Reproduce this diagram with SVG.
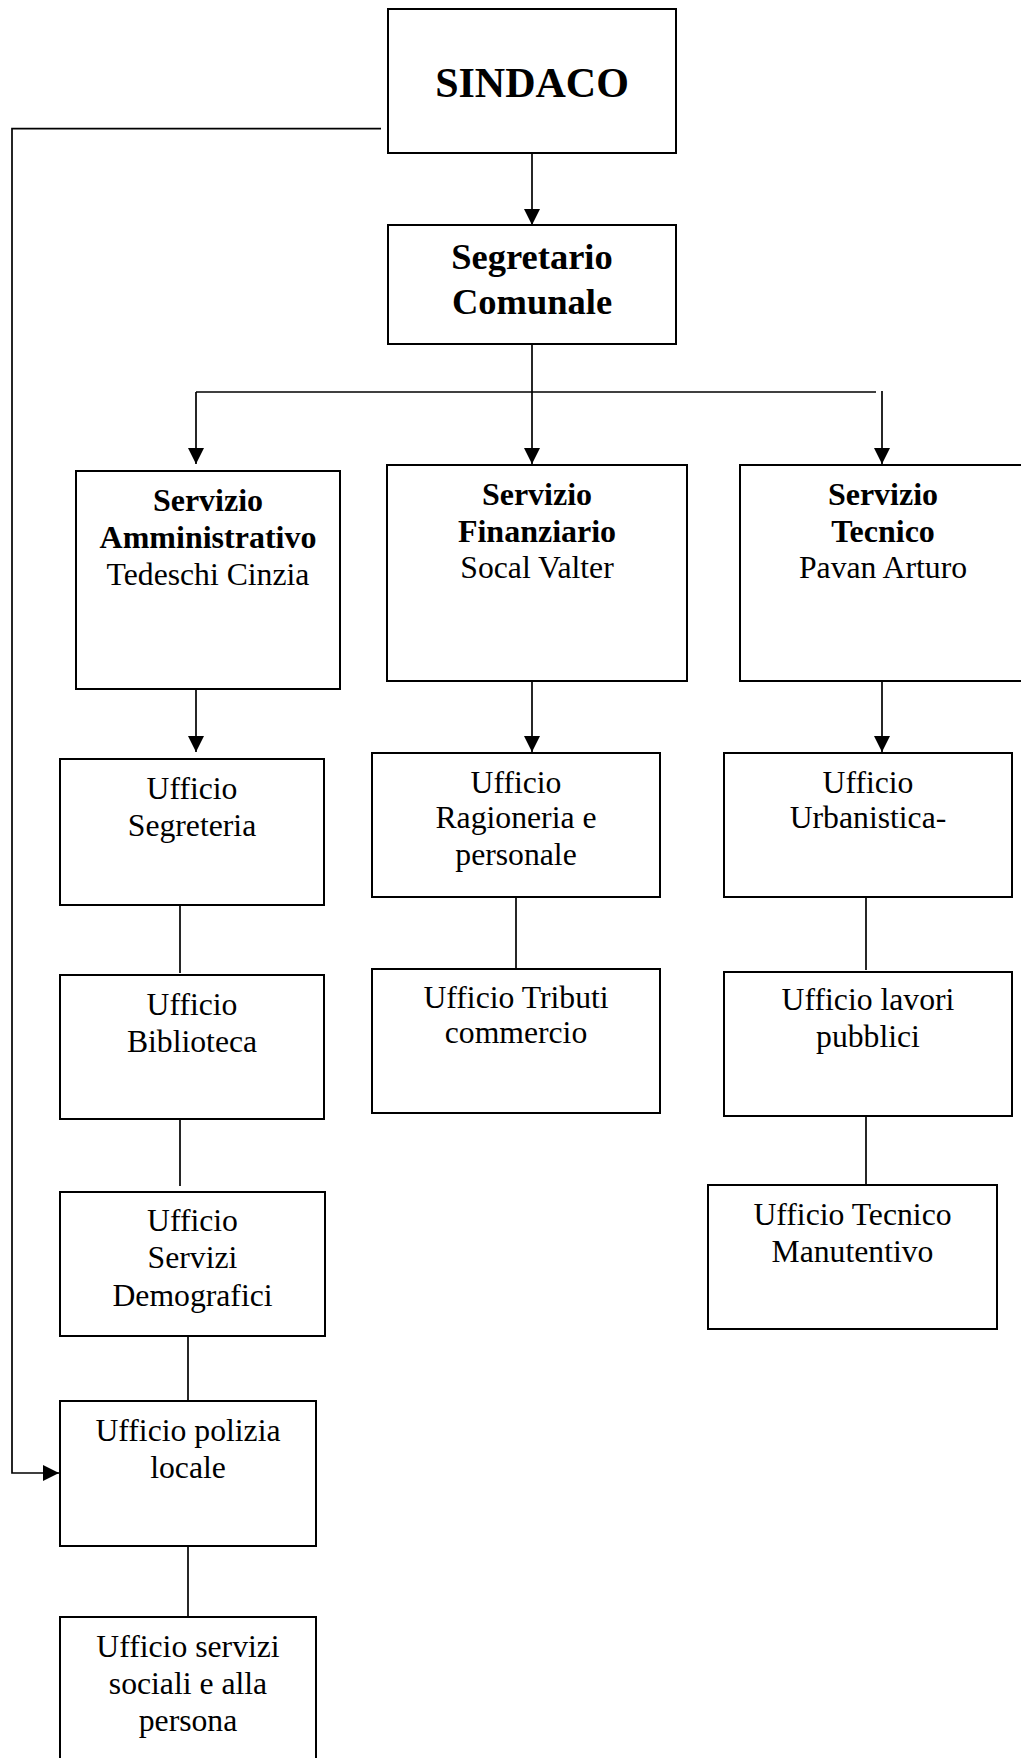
<svg xmlns="http://www.w3.org/2000/svg" width="1021" height="1758" viewBox="0 0 1021 1758">
<style>
.box{fill:#fff;stroke:#000;stroke-width:2}
.con{fill:none;stroke:#000;stroke-width:1.7}
text{font-family:"Liberation Serif","Times New Roman",serif;fill:#000;text-anchor:middle}
.b{font-weight:bold;font-size:32px}
.r{font-size:31.7px}
.big{font-weight:bold;font-size:42px}
.seg{font-weight:bold;font-size:36.5px}
</style>
<defs>
<marker id="arr" markerUnits="userSpaceOnUse" markerWidth="16" markerHeight="16" refX="16" refY="8" orient="auto">
<path d="M0,0 L16,8 L0,16 Z" fill="#000"/>
</marker>
</defs>
<rect width="1021" height="1758" fill="#fff"/>
<g id="connectors">
<line class="con" x1="532" y1="153" x2="532" y2="225" marker-end="url(#arr)"/>
<line class="con" x1="532" y1="344" x2="532" y2="464" marker-end="url(#arr)"/>
<line class="con" x1="196" y1="392" x2="876" y2="392"/>
<line class="con" x1="196" y1="392" x2="196" y2="464" marker-end="url(#arr)"/>
<line class="con" x1="882" y1="391" x2="882" y2="464" marker-end="url(#arr)"/>
<line class="con" x1="196" y1="689" x2="196" y2="752" marker-end="url(#arr)"/>
<line class="con" x1="532" y1="681" x2="532" y2="752" marker-end="url(#arr)"/>
<line class="con" x1="882" y1="681" x2="882" y2="752" marker-end="url(#arr)"/>
<line class="con" x1="180" y1="905" x2="180" y2="973"/>
<line class="con" x1="180" y1="1119" x2="180" y2="1186"/>
<line class="con" x1="188" y1="1336" x2="188" y2="1401"/>
<line class="con" x1="188" y1="1546" x2="188" y2="1617"/>
<line class="con" x1="516" y1="897" x2="516" y2="969"/>
<line class="con" x1="866" y1="897" x2="866" y2="970"/>
<line class="con" x1="866" y1="1113" x2="866" y2="1185"/>
<polyline class="con" points="381,128.7 12,128.7 12,1473 59,1473" marker-end="url(#arr)"/>
</g>
<g id="sindaco">
<rect class="box" x="388" y="9" width="288" height="144"/>
<text class="big" x="532" y="97">SINDACO</text>
</g>
<g id="segretario">
<rect class="box" x="388" y="225" width="288" height="119"/>
<text class="seg" x="532" y="269">Segretario</text>
<text class="seg" x="532" y="314">Comunale</text>
</g>
<g id="servizio-amministrativo">
<rect class="box" x="76" y="471" width="264" height="218"/>
<text class="b" x="208" y="510.7">Servizio</text>
<text class="b" x="208" y="547.7">Amministrativo</text>
<text class="r" x="208" y="584.5">Tedeschi Cinzia</text>
</g>
<g id="servizio-finanziario">
<rect class="box" x="387" y="465" width="300" height="216"/>
<text class="b" x="537" y="505">Servizio</text>
<text class="b" x="537" y="542">Finanziario</text>
<text class="r" x="537" y="578">Socal Valter</text>
</g>
<g id="servizio-tecnico">
<rect class="box" x="740" y="465" width="286" height="216"/>
<text class="b" x="883" y="505">Servizio</text>
<text class="b" x="883" y="542">Tecnico</text>
<text class="r" x="883" y="578">Pavan Arturo</text>
</g>
<g id="ufficio-segreteria">
<rect class="box" x="60" y="759" width="264" height="146"/>
<text class="r" x="192" y="799">Ufficio</text>
<text class="r" x="192" y="836">Segreteria</text>
</g>
<g id="ufficio-biblioteca">
<rect class="box" x="60" y="975" width="264" height="144"/>
<text class="r" x="192" y="1015">Ufficio</text>
<text class="r" x="192" y="1052">Biblioteca</text>
</g>
<g id="ufficio-demografici">
<rect class="box" x="60" y="1192" width="265" height="144"/>
<text class="r" x="192.5" y="1231">Ufficio</text>
<text class="r" x="192.5" y="1268">Servizi</text>
<text class="r" x="192.5" y="1306">Demografici</text>
</g>
<g id="ufficio-polizia">
<rect class="box" x="60" y="1401" width="256" height="145"/>
<text class="r" x="188" y="1441">Ufficio polizia</text>
<text class="r" x="188" y="1478">locale</text>
</g>
<g id="ufficio-sociali">
<rect class="box" x="60" y="1617" width="256" height="160"/>
<text class="r" x="188" y="1657">Ufficio servizi</text>
<text class="r" x="188" y="1694">sociali e alla</text>
<text class="r" x="188" y="1731">persona</text>
</g>
<g id="ufficio-ragioneria">
<rect class="box" x="372" y="753" width="288" height="144"/>
<text class="r" x="516" y="793">Ufficio</text>
<text class="r" x="516" y="828">Ragioneria e</text>
<text class="r" x="516" y="865">personale</text>
</g>
<g id="ufficio-tributi">
<rect class="box" x="372" y="969" width="288" height="144"/>
<text class="r" x="516" y="1008">Ufficio Tributi</text>
<text class="r" x="516" y="1043">commercio</text>
</g>
<g id="ufficio-urbanistica">
<rect class="box" x="724" y="753" width="288" height="144"/>
<text class="r" x="868" y="793">Ufficio</text>
<text class="r" x="868" y="828">Urbanistica-</text>
</g>
<g id="ufficio-lavori">
<rect class="box" x="724" y="972" width="288" height="144"/>
<text class="r" x="868" y="1010">Ufficio lavori</text>
<text class="r" x="868" y="1047">pubblici</text>
</g>
<g id="ufficio-manutentivo">
<rect class="box" x="708" y="1185" width="289" height="144"/>
<text class="r" x="852.5" y="1225">Ufficio Tecnico</text>
<text class="r" x="852.5" y="1262">Manutentivo</text>
</g>
</svg>
